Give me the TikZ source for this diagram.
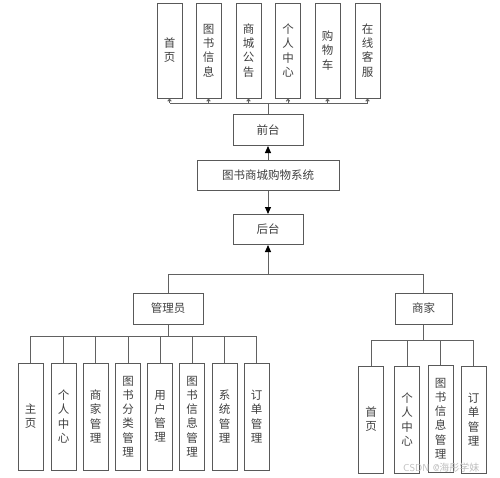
\documentclass[tikz,border=0pt]{standalone}
\usepackage{fontspec}
\setmainfont{Noto Sans CJK SC}
\usetikzlibrary{arrows.meta}
\begin{document}
\begin{tikzpicture}[x=1pt,y=1pt,
  box/.style={draw=black!65, line width=1pt, fill=white, inner sep=0pt, text=black!75, font=\fontsize{11.5}{14.2}\selectfont},
  topbox/.style={box, minimum width=25pt, minimum height=95pt, align=center},
  leafbox/.style={box, minimum width=25pt, minimum height=107pt, align=center},
  hbox/.style={box, minimum width=70pt, minimum height=31pt},
  conn/.style={draw=black!62, line width=1pt},
  bigarrow/.style={conn, -{Triangle[length=7pt,width=6pt,color=black]}},
  smallarrow/.style={conn, -{Straight Barb[length=2pt,width=3.5pt]}}
]
\useasboundingbox (0,0) rectangle (500,-477);
\fill[white] (0,0) rectangle (500,-477);

% top row
\node[topbox] (t1) at (169.5,-50.5) {首\\页};
\node[topbox] (t2) at (208.5,-50.5) {图\\书\\信\\息};
\node[topbox] (t3) at (248.5,-50.5) {商\\城\\公\\告};
\node[topbox] (t4) at (288,-50.5) {个\\人\\中\\心};
\node[topbox] (t5) at (327.5,-50.5) {购\\物\\车};
\node[topbox] (t6) at (367.5,-50.5) {在\\线\\客\\服};

% middle column
\node[hbox] (qian) at (268,-130) {前台};
\node[hbox, minimum width=142pt, minimum height=30pt] (sys) at (268,-175) {图书商城购物系统};
\node[hbox, minimum height=30pt] (hou) at (268,-229.5) {后台};

% roles
\node[hbox] (guan) at (168,-308.5) {管理员};
\node[hbox, minimum width=57pt] (shang) at (423.5,-308.5) {商家};

% admin leaves
\node[leafbox] (a1) at (30.5,-416.5) {主\\页};
\node[leafbox] (a2) at (63.5,-416.5) {个\\人\\中\\心};
\node[leafbox] (a3) at (95.5,-416.5) {商\\家\\管\\理};
\node[leafbox] (a4) at (128,-416.5) {图\\书\\分\\类\\管\\理};
\node[leafbox] (a5) at (160,-416.5) {用\\户\\管\\理};
\node[leafbox] (a6) at (192,-416.5) {图\\书\\信\\息\\管\\理};
\node[leafbox] (a7) at (224.5,-416.5) {系\\统\\管\\理};
\node[leafbox] (a8) at (256.5,-416.5) {订\\单\\管\\理};

% merchant leaves
\node[leafbox] (m1) at (371,-419.5) {首\\页};
\node[leafbox] (m2) at (407,-419.5) {个\\人\\中\\心};
\node[leafbox] (m3) at (440.5,-418.5) {图\\书\\信\\息\\管\\理};
\node[leafbox] (m4) at (473.5,-419.5) {订\\单\\管\\理};

% top connectors
\coordinate (tb) at (268,-103);
\draw[conn] (qian.north) -- (tb);
\foreach \n in {t1,t2,t3,t4,t5,t6}{
  \draw[conn] (tb) -- (tb -| \n.south);
  \draw[smallarrow] (tb -| \n.south) -- (\n.south);
}

% middle arrows
\draw[bigarrow] (sys.north) -- (qian.south);
\draw[bigarrow] (sys.south) -- (hou.north);

% roles to back end
\coordinate (bb) at (268,-274);
\draw[conn] (guan.north) |- (bb);
\draw[conn] (shang.north) |- (bb);
\draw[bigarrow] (bb) -- (hou.south);

% admin branches
\coordinate (ab) at (168,-336);
\draw[conn] (guan.south) -- (ab);
\foreach \n in {a1,a2,a3,a4,a5,a6,a7,a8}{
  \draw[conn] (ab) -| (\n.north);
}

% merchant branches
\coordinate (mb) at (423.5,-340);
\draw[conn] (shang.south) -- (mb);
\foreach \n in {m1,m2,m3,m4}{
  \draw[conn] (mb) -| (\n.north);
}

% watermark
\node[text=black!25, font=\fontsize{10}{11}\selectfont\sffamily, anchor=west, inner sep=0pt] (wm) at (403,-467.5) {CSDN @\fontspec{Noto Sans CJK SC}海彤学妹};
\end{tikzpicture}
\end{document}
